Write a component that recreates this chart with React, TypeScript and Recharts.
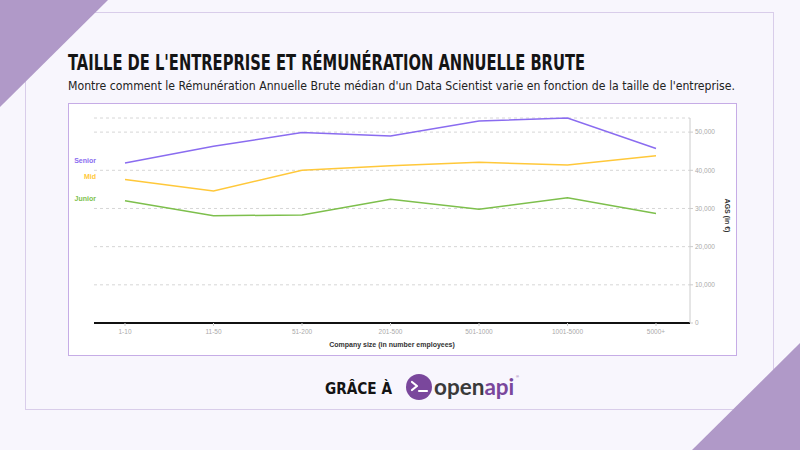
import { LineChart, Line, XAxis, YAxis, CartesianGrid, LabelList } from 'recharts'

const categories = ['1-10', '11-50', '51-200', '201-500', '501-1000', '1001-5000', '5000+']
const senior = [41900, 46300, 49900, 49000, 52900, 53700, 45700]
const mid = [37600, 34600, 40000, 41200, 42100, 41400, 43800]
const junior = [32000, 28100, 28300, 32400, 29800, 32800, 28700]
const yTicks = [0, 10000, 20000, 30000, 40000, 50000]

const data = categories.map((c, i) => ({
  size: c,
  Senior: senior[i],
  Mid: mid[i],
  Junior: junior[i],
}))

const series = [
  { key: 'Senior', color: '#8a6cf0' },
  { key: 'Mid', color: '#ffc83a' },
  { key: 'Junior', color: '#7dbf4c' },
]

const chartFont = '"Liberation Sans", Arial, sans-serif'
const headFont = '"DejaVu Sans Condensed", "Liberation Sans", sans-serif'

function StartLabel(props: any) {
  const { x, y, index, name, color } = props
  if (index !== 0) return null
  return (
    <text x={x - 29} y={y - 2} textAnchor="end" dominantBaseline="middle"
      fontSize={7} fontWeight={700} fill={color} fontFamily={chartFont}>
      {name}
    </text>
  )
}

function YLabel(props: any) {
  const vb = props.viewBox || {}
  const cx = vb.x + 37
  const cy = vb.y + vb.height / 2 - 5
  return (
    <text x={cx} y={cy} textAnchor="middle" dominantBaseline="middle"
      transform={`rotate(90, ${cx}, ${cy})`}
      fontSize={7} fontWeight={700} fill="#333" fontFamily={chartFont}>
      AGS (in €)
    </text>
  )
}

export default function App() {
  return (
    <div style={{ position: 'absolute', left: 0, top: 0, width: 800, height: 450, background: '#f8f6fd', overflow: 'hidden' }}>
      {/* outer panel */}
      <div style={{ position: 'absolute', left: 25, top: 12, width: 749, height: 398, border: '1px solid #d9cdea', boxSizing: 'border-box' }} />
      {/* corner triangles + headings */}
      <svg width={800} height={450} style={{ position: 'absolute', left: 0, top: 0 }}>
        <polygon points="0,0 108,0 0,107" fill="#b099c8" />
        <polygon points="800,343 800,450 692,450" fill="#b099c8" />
        <text x={68} y={70} textLength={517} lengthAdjust="spacingAndGlyphs"
          fontFamily={headFont} fontWeight={700} fontSize={21} fill="#141414">
          TAILLE DE L'ENTREPRISE ET RÉMUNÉRATION ANNUELLE BRUTE
        </text>
        <text x={68} y={90} textLength={667} lengthAdjust="spacingAndGlyphs"
          fontFamily={headFont} fontSize={12.5} fill="#222">
          Montre comment le Rémunération Annuelle Brute médian d'un Data Scientist varie en fonction de la taille de l'entreprise.
        </text>
        <text x={325} y={394} textLength={67} lengthAdjust="spacingAndGlyphs"
          fontFamily={headFont} fontWeight={700} fontSize={16} fill="#141414">
          GRÂCE À
        </text>
      </svg>
      {/* chart box */}
      <div style={{ position: 'absolute', left: 68, top: 103, width: 669, height: 253, background: '#fff', border: '1.5px solid #c6ace6', boxSizing: 'border-box' }} />
      <div style={{ position: 'absolute', left: 0, top: 0 }}>
        <LineChart width={800} height={450} data={data}
          margin={{ top: 118, right: 70, bottom: 97, left: 94 }}>
          <CartesianGrid vertical={false} stroke="#d6d6d6" strokeDasharray="3 3" />
          <XAxis dataKey="size" padding={{ left: 31, right: 34 }} height={30}
            axisLine={{ stroke: '#111', strokeWidth: 2 }}
            tickLine={{ stroke: '#ccc' }} tickSize={3}
            tick={{ fontSize: 6.5, fill: '#aaa', fontFamily: chartFont, dy: 1 }}
            label={{ value: 'Company size (in number employees)', position: 'insideBottom', offset: 6, fontSize: 7, fontWeight: 700, fill: '#333', fontFamily: chartFont }} />
          <YAxis orientation="right" width={40} domain={[0, 'dataMax']} ticks={yTicks}
            axisLine={{ stroke: '#ccc' }} tickLine={{ stroke: '#ccc' }} tickSize={3}
            tick={{ fontSize: 6.5, fill: '#aaa', fontFamily: chartFont }}
            tickFormatter={(v: number) => v.toLocaleString('en-US')}
            label={<YLabel />} />
          {series.map(s => (
            <Line key={s.key} type="linear" dataKey={s.key} stroke={s.color} strokeWidth={1.5}
              dot={false} activeDot={false} isAnimationActive={false}>
              <LabelList dataKey={s.key} content={(p: any) => <StartLabel {...p} name={s.key} color={s.color} />} />
            </Line>
          ))}
        </LineChart>
      </div>
      {/* logo */}
      <svg width={130} height={40} style={{ position: 'absolute', left: 402, top: 368 }}>
        <circle cx={17} cy={19} r={13} fill="#7a479c" />
        <path d="M10 14 L15 18 L10 22" stroke="#fff" strokeWidth={2.2} fill="none" strokeLinecap="round" strokeLinejoin="round" />
        <line x1={17} y1={23} x2={25} y2={23} stroke="#fff" strokeWidth={2.2} strokeLinecap="round" />
        <text x={32} y={27} fontFamily='"Lato", "Open Sans", sans-serif' fontWeight={700} fontSize={22.5} fill="#3a3a3a">
          open<tspan fill="#7a479c">api</tspan>
        </text>
        <text x={114} y={10} fontSize={4} fill="#7a479c" fontFamily={chartFont}>®</text>
      </svg>
    </div>
  )
}
